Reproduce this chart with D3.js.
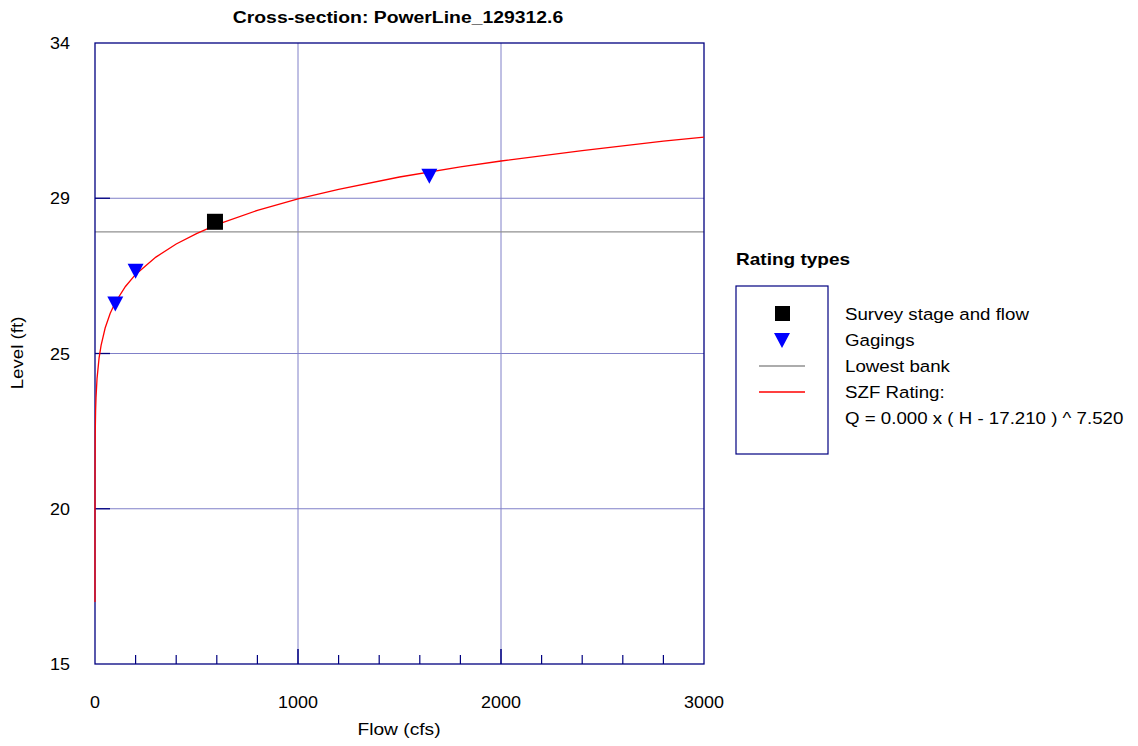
<!DOCTYPE html>
<html><head><meta charset="utf-8">
<script src="https://cdn.jsdelivr.net/npm/d3@7"></script>
<style>body{margin:0;background:#fff;} text{font-family:"Liberation Sans",Arial,sans-serif;fill:#000;}</style>
</head><body><svg id="c" width="1138" height="746"></svg>
<script>
const title = "Cross-section: PowerLine_129312.6";
const yTickValues = [15, 19.75, 24.5, 29.25, 34];
const xTickValues = [0, 1000, 2000, 3000];
const xMinorTicks = [200, 400, 600, 800, 1200, 1400, 1600, 1800, 2200, 2400, 2600, 2800];
const ratingQ = [0, 0.001, 0.1, 1, 3, 5, 10, 20, 30, 50, 75, 100, 150, 200, 300, 400, 500, 600, 800, 1000, 1200, 1500, 1800, 2000, 2400, 2800, 3000];
const ratingH = [16.9, 19.12, 20.74, 22.01, 22.76, 23.15, 23.73, 24.36, 24.75, 25.28, 25.73, 26.06, 26.55, 26.92, 27.45, 27.85, 28.17, 28.44, 28.88, 29.23, 29.52, 29.90, 30.21, 30.39, 30.71, 31.00, 31.12];
const gagingQ = [100, 200, 1647];
const gagingH = [26.0, 27.0, 29.91];
const surveyQ = [591];
const surveyH = [28.53];
const lowestBank = 28.22;
const legendLabels = ["Survey stage and flow", "Gagings", "Lowest bank", "SZF Rating:", "Q = 0.000 x ( H - 17.210 ) ^ 7.520"];

const svg = d3.select("#c");
const L = 95, R = 704, T = 43, B = 664;
const x = d3.scaleLinear().domain([0, 3000]).range([L, R]);
const y = d3.scaleLinear().domain([15, 34]).range([B, T]);
const navy = "#000080", grid = "#8080c8";

function label(px, py, txt, size, anchor, sx, weight, rot) {
  return svg.append("text")
    .attr("transform", `translate(${px},${py})` + (rot ? ` rotate(${rot})` : "") + ` scale(${sx},1)`)
    .attr("text-anchor", anchor).attr("font-size", size)
    .attr("font-weight", weight || "normal").text(txt);
}

// gridlines
svg.append("g").selectAll("line").data(yTickValues.slice(1, -1)).join("line")
  .attr("x1", L).attr("x2", R).attr("y1", d => y(d)).attr("y2", d => y(d))
  .attr("stroke", grid).attr("stroke-width", 1);
svg.append("g").selectAll("line").data([1000, 2000]).join("line")
  .attr("x1", d => x(d)).attr("x2", d => x(d)).attr("y1", T).attr("y2", B)
  .attr("stroke", grid).attr("stroke-width", 1);

// lowest bank
svg.append("line").attr("x1", L).attr("x2", R).attr("y1", y(lowestBank)).attr("y2", y(lowestBank))
  .attr("stroke", "#909090").attr("stroke-width", 1.2);

// left ticks
svg.append("g").selectAll("line").data(yTickValues.slice(1, -1)).join("line")
  .attr("x1", L).attr("x2", L + 15).attr("y1", d => y(d)).attr("y2", d => y(d))
  .attr("stroke", navy).attr("stroke-width", 1.3);
// bottom ticks
svg.append("g").selectAll("line").data(xMinorTicks).join("line")
  .attr("x1", d => x(d)).attr("x2", d => x(d)).attr("y1", B).attr("y2", B - 9)
  .attr("stroke", navy).attr("stroke-width", 1.2);
svg.append("g").selectAll("line").data([1000, 2000]).join("line")
  .attr("x1", d => x(d)).attr("x2", d => x(d)).attr("y1", B).attr("y2", B - 15)
  .attr("stroke", navy).attr("stroke-width", 1.5);

// frame
svg.append("rect").attr("x", L).attr("y", T).attr("width", R - L).attr("height", B - T)
  .attr("fill", "none").attr("stroke", navy).attr("stroke-width", 1.3);

// rating curve
const rating = ratingQ.map((q, i) => [q, ratingH[i]]);
svg.append("path").datum(rating)
  .attr("d", d3.line().x(d => x(d[0])).y(d => y(d[1])))
  .attr("fill", "none").attr("stroke", "#ff0000").attr("stroke-width", 1.3);

// gagings (down triangles)
const tri = (cx, cy) => `M${cx - 8},${cy - 8}L${cx + 8},${cy - 8}L${cx},${cy + 7}Z`;
svg.append("g").selectAll("path").data(gagingQ.map((q, i) => [q, gagingH[i]])).join("path")
  .attr("d", d => tri(x(d[0]), y(d[1]))).attr("fill", "#0000ff");
// survey
svg.append("g").selectAll("rect").data(surveyQ.map((q, i) => [q, surveyH[i]])).join("rect")
  .attr("x", d => x(d[0]) - 8).attr("y", d => y(d[1]) - 8).attr("width", 16).attr("height", 16)
  .attr("fill", "#000");

// tick labels
yTickValues.forEach(v => label(70, y(v) + 6, d3.format(".0f")(v), 16, "end", 1.12));
xTickValues.forEach(v => label(x(v), 708, String(v), 16, "middle", 1.12));

// titles
label(398, 23, title, 17, "middle", 1.14, "bold");
label(399, 735, "Flow (cfs)", 17, "middle", 1.13);
label(23, 353, "Level (ft)", 17, "middle", 1.1, "normal", -90);

// legend
label(736, 265, "Rating types", 17, "start", 1.12, "bold");
svg.append("rect").attr("x", 736).attr("y", 286).attr("width", 92).attr("height", 168)
  .attr("fill", "none").attr("stroke", navy).attr("stroke-width", 1.2);
const rowY = [314, 340, 366, 392, 418];
svg.append("rect").attr("x", 775).attr("y", rowY[0] - 8).attr("width", 15).attr("height", 15).attr("fill", "#000");
svg.append("path").attr("d", tri(782, rowY[1] + 1)).attr("fill", "#0000ff");
svg.append("line").attr("x1", 759).attr("x2", 805).attr("y1", rowY[2]).attr("y2", rowY[2]).attr("stroke", "#909090").attr("stroke-width", 1.5);
svg.append("line").attr("x1", 759).attr("x2", 805).attr("y1", rowY[3]).attr("y2", rowY[3]).attr("stroke", "#ff0000").attr("stroke-width", 1.5);
legendLabels.forEach((t, i) => label(845, rowY[i] + 6, t, 17, "start", 1.1));
</script></body></html>
